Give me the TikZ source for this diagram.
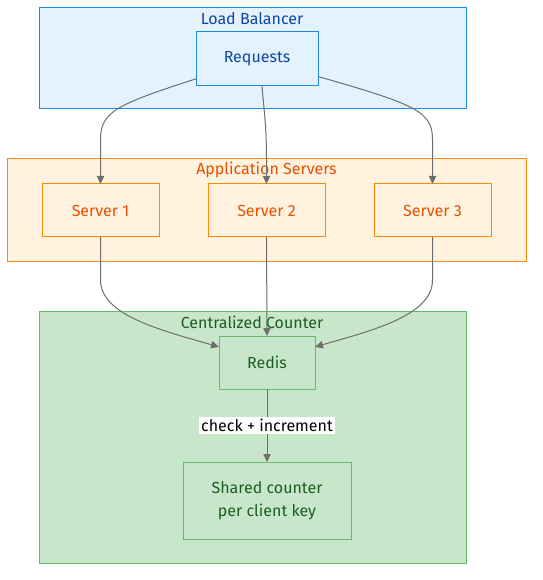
\documentclass[tikz,border=0pt]{standalone}
\usepackage{fontspec}
\setmainfont{Fira Sans}
\usetikzlibrary{arrows.meta,calc}

\definecolor{lbfill}{HTML}{E3F2FD}
\definecolor{lbline}{HTML}{1E88E5}
\definecolor{lbtext}{HTML}{0D47A1}
\definecolor{appfill}{HTML}{FFF3E0}
\definecolor{appline}{HTML}{FB8C00}
\definecolor{apptext}{HTML}{E65100}
\definecolor{ctrfill}{HTML}{C8E6C9}
\definecolor{ctrline}{HTML}{66BB6A}
\definecolor{ctrtext}{HTML}{1B5E20}
\definecolor{flowgray}{HTML}{6E6E6E}

\tikzset{
  box/.style={draw, line width=0.75pt, outer sep=0pt, inner sep=0pt, align=center},
  lbnode/.style={box, draw=lbline, fill=lbfill, text=lbtext},
  appnode/.style={box, draw=appline, fill=appfill, text=apptext,
    minimum width=87.75pt, minimum height=39.75pt},
  ctrnode/.style={box, draw=ctrline, fill=ctrfill, text=ctrtext},
  flow/.style={draw=flowgray, line width=0.75pt,
    -{Triangle[length=6pt, width=5.5pt]}},
  lbl/.style={fill=white, text=black, inner sep=1.5pt, outer sep=0pt}
}

\begin{document}
\begin{tikzpicture}[x=0.75pt, y=-0.75pt, font=\fontsize{12}{17.5}\selectfont]
  \useasboundingbox (0,0) rectangle (542,580);

  % load balancer
  \path[draw=lbline, fill=lbfill, line width=0.75pt] (39,8) rectangle (466,109);
  \node[text=lbtext] (lbtitle) at (252,19) {Load Balancer};
  \node[lbnode, minimum width=91.5pt, minimum height=40.5pt] (req) at (257,59) {Requests};

  % application servers
  \path[draw=appline, fill=appfill, line width=0.75pt] (7,159) rectangle (526,262);
  \node[text=apptext] (apptitle) at (266.5,170) {Application Servers};
  \foreach \i/\x in {1/100.5, 2/266.5, 3/432.5}
  {
    \node[appnode] (s\i) at (\x,210.5) {Server \i};
  }

  % centralized counter
  \path[draw=ctrline, fill=ctrfill, line width=0.75pt] (39,311) rectangle (466,563);
  \node[text=ctrtext] (ctrtitle) at (252,322) {Centralized Counter};
  \node[ctrnode, minimum width=72pt, minimum height=39.75pt] (redis) at (267,362.5) {Redis};
  \node[ctrnode, minimum width=126pt, minimum height=57.75pt] (shared) at (267,500.5)
    {Shared counter\\per client key};

  % connectors
  \path[flow] (req.198) .. controls (115,105) and (100.5,112) .. (100.5,140) -- (s1.north);
  \path[flow] ($(req.south)+(5,0)$) .. controls (265,120) and (266.5,130) .. (266.5,160) -- (s2.north);
  \path[flow] (req.344) .. controls (418,105) and (432.5,112) .. (432.5,140) -- (s3.north);
  \path[flow] (s1.south) -- (100.5,280) .. controls (100.5,315) and (160,330) .. (redis.162);
  \path[flow] (s2.south) -- (redis.north);
  \path[flow] (s3.south) -- (432.5,280) .. controls (432.5,315) and (374,330) .. (redis.18);
  \path[flow] (redis.south) -- node[lbl] {check + increment} (shared.north);
\end{tikzpicture}
\end{document}
